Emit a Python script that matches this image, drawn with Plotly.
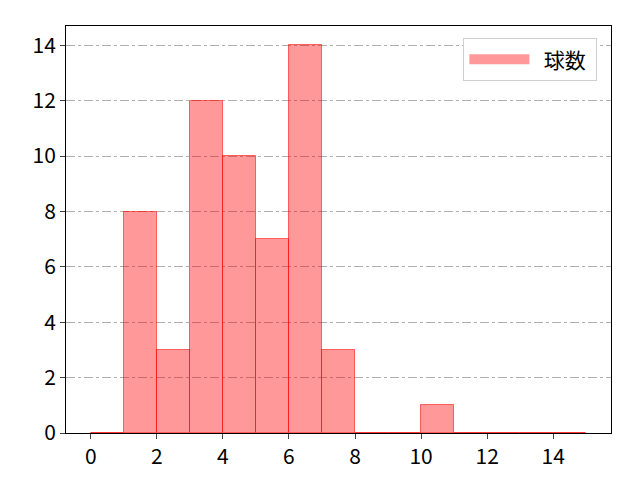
import plotly.graph_objects as go

# histogram bins (left edges, width 1) and counts
bin_left = list(range(0, 15))
counts = [0, 8, 3, 12, 10, 7, 14, 3, 0, 0, 1, 0, 0, 0, 0]
series_name = "球数"
x_ticks = [0, 2, 4, 6, 8, 10, 12, 14]
y_ticks = [0, 2, 4, 6, 8, 10, 12, 14]

font = "Noto Sans CJK JP"
fill = "rgba(255,0,0,0.4)"

fig = go.Figure()
fig.add_trace(go.Bar(
    x=[b + 0.5 for b in bin_left],
    y=counts,
    width=1,
    name=series_name,
    marker=dict(color=fill, line=dict(color="rgba(255,0,0,0.55)", width=1)),
    showlegend=False,
))
# legend entry drawn as a wide patch
fig.add_trace(go.Scatter(
    x=[None], y=[None], mode="lines", name="  " + series_name + " ",
    line=dict(color=fill, width=19),
))

fig.update_layout(
    width=640, height=480,
    margin=dict(l=58, r=37, t=18, b=55),
    plot_bgcolor="white", paper_bgcolor="white",
    font=dict(family=font, size=21, color="black"),
    bargap=0,
    showlegend=True,
    legend=dict(x=0.975, y=0.97, xanchor="right", yanchor="top",
                bordercolor="#d0d0d0", borderwidth=1, bgcolor="white",
                itemwidth=60, font=dict(size=21)),
    xaxis=dict(range=[-0.75, 15.75], tickvals=x_ticks, showgrid=False,
               showline=True, linecolor="black", linewidth=1, mirror=True,
               ticks="outside", ticklen=5, zeroline=False,
               tickfont=dict(size=21)),
    yaxis=dict(range=[0, 14.7], tickvals=y_ticks, showgrid=True,
               gridcolor="#b0b0b0", griddash="dashdot", gridwidth=1,
               showline=True, linecolor="black", linewidth=1, mirror=True,
               ticks="outside", ticklen=5, zeroline=False,
               tickfont=dict(size=21)),
)

fig.write_html("out.html")
